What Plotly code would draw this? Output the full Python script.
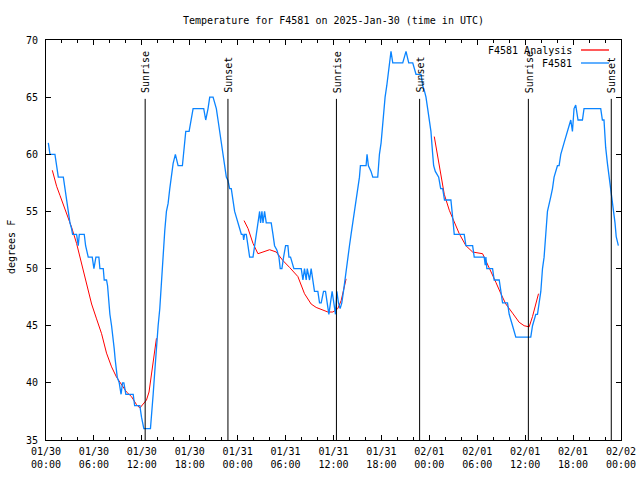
import pandas as pd
import plotly.graph_objects as go

BASE = pd.Timestamp("2025-01-30 00:00")

# Observed station temperature (hours after 01/30 00:00 UTC, degrees F)
obs_hours = [0.29,0.5,1.12,1.33,1.54,2.17,2.37,2.58,2.79,3.0,3.2,3.33,3.83,4.04,4.17,4.33,4.79,4.96,5.08,5.29,
             5.79,6.0,6.25,6.62,6.75,6.96,7.17,7.29,7.58,7.71,7.79,8.0,8.21,8.42,8.54,8.67,8.79,8.92,9.17,9.4,
             9.58,9.75,10.0,10.3,10.92,11.1,11.33,11.75,11.96,12.25,13.08,13.21,13.42,13.62,13.83,14.04,14.25,14.46,14.67,14.87,
             15.08,15.29,15.5,15.71,15.92,16.2,16.35,16.54,17.08,17.25,17.5,17.92,18.2,18.42,19.75,20.0,20.29,20.5,20.92,21.12,
             21.33,21.54,21.75,21.96,22.17,22.37,22.58,22.79,23.0,23.2,23.42,23.62,23.83,24.04,24.46,24.67,24.75,24.87,25.08,25.29,
             25.5,25.92,26.12,26.33,26.54,26.75,26.87,27.04,27.17,27.37,27.58,28.2,28.42,28.62,28.92,29.17,29.33,29.54,29.75,30.0,
             30.29,30.42,30.62,30.83,31.04,31.96,32.17,32.37,32.58,32.71,33.0,33.2,33.42,33.62,34.04,34.25,34.46,34.75,35.0,35.2,
             35.42,35.62,35.83,36.04,36.25,36.42,36.62,36.83,37.04,37.25,37.46,37.58,37.79,38.0,38.2,38.42,38.62,38.83,39.04,39.25,
             39.37,40.08,40.2,40.37,40.7,40.92,41.54,41.75,41.96,42.08,42.25,42.46,42.67,42.87,43.08,43.2,43.42,44.67,45.08,45.42,
             45.92,46.33,46.96,47.17,47.4,47.58,47.79,48.0,48.2,48.42,48.54,48.75,49.17,49.42,49.67,49.9,50.7,50.92,51.12,52.37,
             52.58,53.42,53.62,54.87,55.0,55.08,55.2,55.92,56.12,56.75,56.96,57.17,57.79,58.0,58.42,58.83,60.7,60.92,61.33,61.54,
             61.75,61.96,62.17,62.37,62.58,62.79,63.21,63.42,63.62,64.04,64.25,64.46,64.87,65.29,65.5,65.71,65.92,66.12,66.33,66.62,
             67.17,67.37,69.46,69.67,69.87,70.08,70.3,70.58,70.8,71.0,71.25,71.4,71.67]
obs_temps = [61,60,60,59,58,58,57,56,55,54,53.5,53,53,52,53,53,53,52,51.5,51,
             51,50,51,51,50,50,50,49,49,48.5,47.5,46,45,44,43,42,41,40.5,40,39,
             40,40,39,39,39,38,38,38,37,36,36,37,39,41,43.5,45,46.5,49,51.5,53.3,
             55,55.7,57,58.3,59.2,60,59.6,59,59,60,62,62,63,64,64,63,64,65,65,64.5,
             64,63,62,61,60,59,58,57.7,57,57,56,55,54.5,54,53,53,52.5,53,53,52,
             51,51,52,53,54,55,54,55,54,55,54,54,53,52,51.6,51,50,50,51,52,
             52,51,51,50.5,50,50,49,50,49,50,49,50,49,48,48,47,47,48,48,47,
             46,47,48,47,46,48,47,46.5,47,48,49,50,51,52,53,54,55,56,57,58,
             59,59,60,59,58.5,58,58,60,61,62,64,65,66,67,68,69,68,68,69,68,
             68,67,67,66,65.5,65,64,63,62,60,59,58.5,58,57,57,56,56,54.5,53,53,
             52,52,51,51,50.3,51,50,50,49,49,48,47,47,46,45,44,44,45,46,46,
             47,48,50,51,53,55,56.3,57,58,59,59,60,61,62,62.4,63,62,64,64.3,63,
             63,64,64,63,63,60.6,59.2,57.7,56.5,55,54,52.8,52]

# Analysis temperature (three separate segments)
ana_hours = [0.79,1.33,1.75,2.58,3.21,3.83,4.46,5.08,5.71,6.33,6.96,7.58,8.21,8.83,9.46,10.08,10.7,11.33,11.75,12.17,
             12.58,12.9,13.2,13.5,13.83,
             None,
             24.8,25.3,25.92,26.54,27.17,28.0,28.83,29.67,30.5,31.54,32.37,33.2,33.83,34.46,35.3,35.92,36.54,36.96,37.37,37.58,
             None,
             48.62,49.04,49.46,49.87,50.5,51.12,51.75,52.58,53.42,54.67,55.08,55.7,56.33,56.96,57.58,58.42,59.25,59.87,60.5,60.92,
             61.33,61.67]
ana_temps = [58.6,57.2,56.4,54.9,53.6,52.2,50.4,48.7,46.9,45.6,44.3,42.6,41.4,40.5,39.8,39.2,38.8,38.1,37.8,38.2,
             38.5,39.2,40.8,42.6,43.9,
             None,
             54.2,53.5,52.2,51.3,51.45,51.65,51.45,50.7,50.1,49.3,47.8,46.9,46.6,46.4,46.2,46.2,46.5,47.2,48.4,49.1,
             None,
             61.55,59.75,58.0,56.5,55.1,54.1,53.05,52.0,51.45,51.3,50.7,49.85,48.8,47.8,46.9,46.1,45.3,45.0,44.9,45.8,
             46.9,47.8]

sun_events = ["Sunrise", "Sunset", "Sunrise", "Sunset", "Sunrise", "Sunset"]
sun_times = ["2025-01-30 12:25", "2025-01-30 22:47", "2025-01-31 12:22",
             "2025-01-31 22:47", "2025-02-01 12:24", "2025-02-01 22:47"]
sun_line_top = 64.85

title_text = "Temperature for F4581 on 2025-Jan-30 (time in UTC)"
ana_name = "F4581 Analysis"
obs_name = "F4581"
RED = "#ff0000"
BLUE = "#0a84ff"
FONT = "DejaVu Sans Mono"


def to_time(hours):
    return [None if h is None else BASE + pd.Timedelta(hours=h) for h in hours]


fig = go.Figure()
fig.add_trace(go.Scatter(x=to_time(ana_hours), y=ana_temps, mode="lines", name=ana_name,
                         line=dict(color=RED, width=1), connectgaps=False, showlegend=False))
fig.add_trace(go.Scatter(x=to_time(obs_hours), y=obs_temps, mode="lines", name=obs_name,
                         line=dict(color=BLUE, width=1.3), showlegend=False))

for ev, t in zip(sun_events, sun_times):
    fig.add_shape(type="line", xref="x", yref="y", x0=t, x1=t, y0=35, y1=sun_line_top,
                  line=dict(color="black", width=1), layer="above")
    fig.add_annotation(x=t, xref="x", y=sun_line_top + 0.35, yref="y", text=ev, textangle=-90,
                       showarrow=False, xanchor="center", yanchor="bottom", xshift=1,
                       font=dict(family=FONT, size=10, color="black"))

# gnuplot-style legend (label text right, sample line to the right)
for name, col, ypx in [(ana_name, RED, 50), (obs_name, BLUE, 63)]:
    yp = (440 - ypx) / 400
    fig.add_annotation(x=(574 - 46) / 575, xref="paper", y=yp, yref="paper", text=name,
                       showarrow=False, xanchor="right", yanchor="middle",
                       font=dict(family=FONT, size=10, color="black"))
    fig.add_shape(type="line", xref="paper", yref="paper", x0=(581 - 46) / 575, x1=(609 - 46) / 575,
                  y0=yp, y1=yp, line=dict(color=col, width=1.3))

fig.add_annotation(x=-(46 - 11) / 575, xref="paper", y=(440 - 247) / 400, yref="paper",
                   text="degrees F", textangle=-90, showarrow=False, xanchor="center", yanchor="middle",
                   font=dict(family=FONT, size=10, color="black"))

fig.update_layout(
    width=640, height=480,
    margin=dict(l=46, r=19, t=40, b=40, autoexpand=False),
    paper_bgcolor="white", plot_bgcolor="white",
    title=dict(text=title_text, x=(333.5) / 640, xanchor="center", y=1 - 20 / 480, yanchor="middle",
               font=dict(family=FONT, size=10, color="black"), automargin=False),
    font=dict(family=FONT, size=10, color="black"),
    showlegend=False,
)
fig.update_xaxes(type="date", range=["2025-01-30 00:00", "2025-02-02 00:00"], automargin=False,
                 tick0="2025-01-30 00:00", dtick=6 * 3600 * 1000, tickformat="%m/%d<br>%H:%M",
                 showgrid=False, zeroline=False, showline=True, linecolor="black", linewidth=1,
                 mirror="allticks", ticks="inside", ticklen=5, tickcolor="black", ticklabelstandoff=2,
                 minor=dict(dtick=2 * 3600 * 1000, ticks="inside", ticklen=3, tickcolor="black", showgrid=False),
                 tickfont=dict(family=FONT, size=10, color="black"))
fig.update_yaxes(range=[35, 70], dtick=5, tick0=35, showgrid=False, zeroline=False, automargin=False,
                 showline=True, linecolor="black", linewidth=1, mirror="allticks",
                 ticks="inside", ticklen=5, tickcolor="black", ticklabelstandoff=5,
                 tickfont=dict(family=FONT, size=10, color="black"))

fig.write_html("out.html", config={"displayModeBar": False},
               post_script="document.body.style.margin='0px';document.body.style.overflow='hidden';")
